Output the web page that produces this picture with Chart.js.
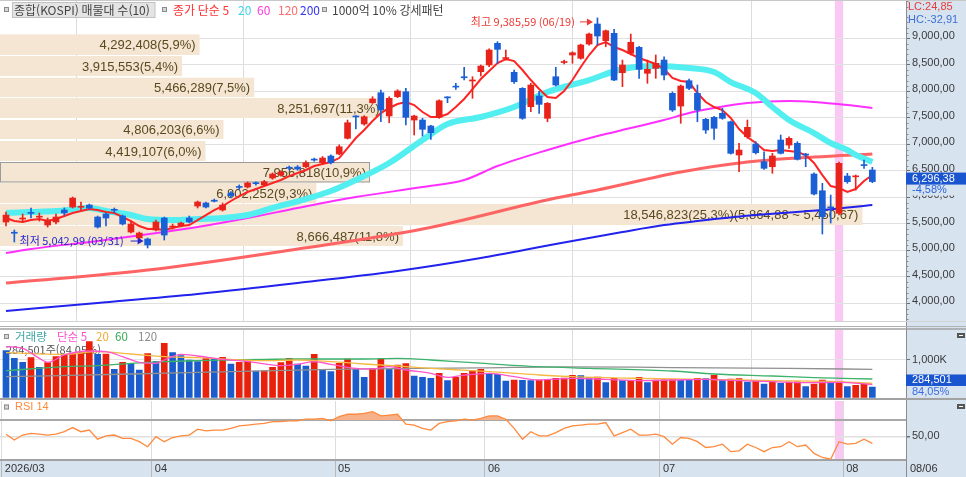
<!DOCTYPE html>
<html lang="ko">
<head>
<meta charset="utf-8">
<title>종합(KOSPI) 일봉</title>
<script src="https://cdn.jsdelivr.net/npm/chart.js@4.4.1/dist/chart.umd.min.js"></script>
<style>
  html, body { margin: 0; padding: 0; background: #fff; }
  #wrap { position: relative; width: 966px; height: 477px; overflow: hidden; }
  #wrap canvas { position: absolute; left: 0; }
  #priceChart { top: 0; }
  #volumeChart { top: 322px; }
  #rsiChart { top: 400px; }
</style>
</head>
<body>
<div id="wrap">
  <canvas id="priceChart" width="966" height="322"></canvas>
  <canvas id="volumeChart" width="966" height="78"></canvas>
  <canvas id="rsiChart" width="966" height="77"></canvas>
</div>
<script>
// ---- data ----
const monthLabels = ['2026/03', '04', '05', '06', '07', '08'];
const monthStarts = [0, 18, 40, 58, 79, 101];   // first session of each month
const lastDate = '08/06';
const highDate = '06/19';
const lowDate = '03/31';
const highlightIndex = 100;                      // pattern day (pink column)

const opens = [
  5534, 5330, 5590, 5705, 5625, 5477, 5534, 5760, 5816, 5812,
  5854, 5628, 5684, 5765, 5647, 5345, 5232, 5213, 5383, 5609,
  5440, 5458, 5609, 5835, 5892, 5934, 5760, 6080, 6196, 6194,
  6265, 6232, 6364, 6420, 6557, 6571, 6577, 6710, 6652, 6779,
  6817, 7113, 7524, 7383, 7785, 7973, 7534, 7898, 7992, 7458,
  7458, 7345, 7509, 7884, 8087, 8264, 8195, 8370, 8496, 8906,
  8618, 8358, 8056, 7709, 7911, 7490, 8275, 8543, 8685, 8623,
  8892, 9270, 8955, 9094, 8351, 8717, 8830, 8340, 8434, 8590,
  7962, 7722, 8200, 7962, 7471, 7509, 7585, 7426, 6798, 7143,
  7005, 6671, 6577, 7081, 6986, 7019, 6807, 6439, 6124, 5810,
  5698, 6401, 6386, 6613, 6515
];
const highs = [
  5722, 5383, 5684, 5798, 5703, 5609, 5684, 5798, 6005, 5911,
  5873, 5647, 5703, 5798, 5665, 5552, 5345, 5232, 5571, 5628,
  5496, 5534, 5647, 5930, 5911, 5967, 5892, 6110, 6233, 6290,
  6290, 6320, 6460, 6500, 6590, 6600, 6690, 6740, 6770, 6800,
  6990, 7458, 7540, 7540, 7898, 8024, 7898, 8030, 8056, 7550,
  7490, 7360, 7840, 7898, 8151, 8453, 8275, 8496, 8800, 8936,
  8779, 8402, 8070, 8151, 8000, 7790, 8453, 8590, 8747, 8890,
  9100, 9385.59, 9157, 9170, 8590, 9081, 8850, 8590, 8685, 8653,
  7990, 8120, 8230, 8119, 7490, 7530, 7679, 7440, 7019, 7458,
  7049, 6860, 6830, 7175, 7143, 7049, 6830, 6460, 6264, 6043,
  6666, 6453, 6420, 6703, 6566
];
const lows = [
  5458, 5156, 5534, 5609, 5552, 5439, 5496, 5665, 5798, 5760,
  5779, 5420, 5458, 5703, 5477, 5326, 5194, 5042.99, 5364, 5194,
  5401, 5439, 5515, 5798, 5798, 5911, 5740, 5990, 6150, 6175,
  6230, 6220, 6340, 6400, 6520, 6510, 6560, 6680, 6630, 6630,
  6800, 7100, 7288, 7360, 7770, 7426, 7407, 7880, 7364, 7175,
  7156, 7094, 7490, 7785, 8038, 8213, 7868, 8289, 8464, 8528,
  8590, 8151, 7471, 7615, 7585, 7426, 8100, 8515, 8530, 8605,
  8870, 8874, 8841, 8200, 8087, 8685, 8245, 8151, 8245, 8213,
  7620, 7396, 8030, 7426, 7207, 7094, 7471, 6815, 6483, 7113,
  6817, 6528, 6453, 6817, 6924, 6703, 6577, 6043, 5307, 5515,
  5666, 6264, 6137, 6547, 6275
];
const closes = [
  5665, 5322, 5598, 5697, 5633, 5571, 5628, 5703, 5986, 5820,
  5798, 5439, 5609, 5755, 5496, 5496, 5326, 5100, 5534, 5288,
  5448, 5515, 5534, 5911, 5816, 5926, 5854, 6030, 6186, 6270,
  6257, 6294, 6439, 6477, 6549, 6533, 6652, 6702, 6741, 6652,
  6954, 7407, 7516, 7520, 7855, 7647, 7868, 8006, 7509, 7534,
  7283, 7219, 7822, 7876, 8079, 8256, 8205, 8477, 8779, 8792,
  8627, 8181, 7490, 8119, 7754, 7773, 8119, 8552, 8728, 8874,
  9081, 9043, 9143, 8213, 8496, 8925, 8415, 8415, 8528, 8307,
  7647, 8100, 8056, 7647, 7270, 7302, 7490, 6830, 6892, 7320,
  6841, 6547, 6779, 6830, 7113, 6717, 6797, 6062, 5634, 5800,
  6641, 6294, 6396, 6598.6, 6296.38
];

// moving averages of the close (5 per session, the rest as [session, value])
const ma5 = [
  5609, 5552, 5534, 5571, 5590, 5552, 5590, 5647, 5703, 5741,
  5779, 5760, 5722, 5703, 5628, 5552, 5458, 5401, 5401, 5383,
  5420, 5458, 5477, 5571, 5665, 5760, 5835, 5930, 6024, 6100,
  6156, 6213, 6269, 6326, 6401, 6458, 6515, 6590, 6628, 6666,
  6741, 6930, 7119, 7270, 7439, 7590, 7685, 7760, 7798, 7741,
  7609, 7515, 7515, 7571, 7704, 7855, 8043, 8232, 8383, 8534,
  8609, 8571, 8402, 8213, 8043, 7892, 7873, 8006, 8213, 8458,
  8685, 8874, 8930, 8836, 8779, 8704, 8628, 8571, 8515, 8421,
  8251, 8194, 8175, 7968, 7798, 7704, 7647, 7496, 7288, 7138,
  7024, 6892, 6873, 6892, 6873, 6854, 6798, 6647, 6420, 6213,
  6175, 6100, 6156, 6307, 6420
];
const ma20 = [[0, 5703], [3, 5722], [6, 5741], [10, 5798], [12, 5741], [15, 5665], [17, 5590],
  [20, 5571], [23, 5590], [26, 5609], [29, 5665], [32, 5798], [36, 5967], [39, 6118], [42, 6326],
  [46, 6647], [50, 7081], [53, 7383], [57, 7515], [61, 7704], [65, 7987], [70, 8213], [74, 8421],
  [78, 8477], [82, 8440], [85, 8364], [87, 8175], [90, 7968], [92, 7704], [94, 7458], [97, 7213],
  [99, 7024], [101, 6892], [102, 6800], [104, 6666]];
const ma60 = [[0, 4949], [3, 5024], [11, 5175], [19, 5345], [23, 5439], [29, 5609], [35, 5798],
  [42, 6005], [50, 6194], [55, 6326], [59, 6590], [65, 6892], [71, 7156], [75, 7307], [79, 7458],
  [82, 7590], [85, 7685], [89, 7779], [94, 7817], [97, 7798], [101, 7741], [104, 7685]];
const ma120 = [[0, 4382], [17, 4628], [35, 5024], [50, 5401], [66, 5986], [71, 6137], [81, 6477],
  [89, 6666], [97, 6760], [104, 6817]];
const ma200 = [[0, 3854], [11, 4005], [23, 4175], [35, 4382], [47, 4609], [57, 4854], [66, 5118],
  [74, 5345], [79, 5477], [83, 5552], [90, 5665], [98, 5760], [104, 5854]];

const priceTicks = [4000, 4500, 5000, 5500, 6000, 6500, 7000, 7500, 8000, 8500, 9000];

// volume profile (매물대), 10 price bands from top to bottom
const bandHigh = [9075, 8666, 8256, 7873, 7458, 7062, 6666, 6269, 5873, 5458];
const bandLow = [8685, 8289, 7892, 7496, 7100, 6685, 6280, 5892, 5477, 5081];
const bandVolume = [4292408, 3915553, 5466289, 8251697, 4806203, 4419107, 7956818, 6802252, 18546823, 8666487];
const bandPct = [5.9, 5.4, 7.5, 11.3, 6.6, 6.0, 10.9, 9.3, 25.3, 11.8];
const maxBandRange = [5864.88, 5450.67];

const volume = [
  1248000, 1044000, 938000, 1062000, 806000, 929000, 1089000, 1150000, 1160000, 1195000,
  1486000, 1150000, 1159000, 753000, 938000, 912000, 735000, 1168000, 956000, 1442000,
  1195000, 1115000, 1000000, 956000, 1044000, 1018000, 1071000, 894000, 938000, 982000,
  708000, 715000, 806000, 929000, 1044000, 894000, 841000, 1150000, 735000, 691000,
  912000, 1027000, 762000, 540000, 779000, 1027000, 762000, 868000, 903000, 576000,
  540000, 514000, 647000, 452000, 540000, 647000, 717000, 752000, 629000, 620000,
  443000, 470000, 462000, 455000, 468000, 487000, 513000, 520000, 593000, 585000,
  531000, 545000, 399000, 513000, 452000, 460000, 540000, 399000, 469000, 475000,
  480000, 470000, 465000, 513000, 505000, 593000, 469000, 495000, 505000, 417000,
  452000, 363000, 407000, 381000, 416000, 420000, 293000, 363000, 469000, 381000,
  425000, 293000, 328000, 363000, 284501
];
const volMa5 = [[0, 1354000], [2, 1310000], [4, 1044000], [5, 938000], [7, 1133000], [10, 1239000],
  [12, 1221000], [14, 1089000], [16, 938000], [18, 912000], [19, 1000000], [21, 1150000], [23, 1106000],
  [26, 1018000], [28, 982000], [30, 929000], [33, 850000], [35, 885000], [37, 956000], [39, 885000],
  [42, 779000], [44, 762000], [46, 823000], [48, 735000], [51, 647000], [53, 540000], [55, 600000],
  [58, 646000], [61, 558000], [64, 469000], [68, 513000], [72, 487000], [76, 452000], [80, 469000],
  [84, 487000], [88, 452000], [92, 425000], [96, 399000], [100, 408000], [104, 346000]];
const volMa20 = [[0, 1195000], [7, 1150000], [11, 1221000], [15, 1159000], [19, 1089000], [23, 1062000],
  [27, 1018000], [31, 982000], [35, 1000000], [39, 956000], [43, 894000], [47, 841000], [51, 779000],
  [56, 717000], [60, 664000], [64, 602000], [68, 558000], [76, 513000], [84, 487000], [92, 452000],
  [100, 425000], [104, 381000]];
const volMa60 = [[0, 717000], [7, 823000], [11, 850000], [15, 912000], [19, 956000], [23, 982000],
  [27, 1000000], [31, 1018000], [35, 1027000], [39, 1027000], [43, 1027000], [47, 1044000], [51, 1000000],
  [56, 929000], [64, 823000], [70, 779000], [80, 708000], [85, 629000], [92, 575000], [97, 531000],
  [104, 496000]];
const volMa120 = [[0, 558000], [15, 629000], [27, 691000], [39, 753000], [57, 790000], [67, 820000],
  [80, 800000], [94, 779000], [104, 752000]];
const volRatioPct = 84.05;

const rsi = [
  53, 46, 52, 54, 53, 52, 53, 56, 61, 56,
  58, 47, 51, 52, 48, 48, 44, 38, 50, 44,
  49, 51, 52, 59, 57, 58, 58, 60, 63, 64,
  65, 66, 68, 68, 69, 69, 71, 71, 72, 69,
  74, 77, 77, 78, 80, 75, 76, 77, 65, 64,
  60, 58, 66, 68, 69, 71, 70, 72, 75, 75,
  71, 60, 47, 56, 51, 51, 55, 60, 63, 64,
  65, 65, 67, 51, 55, 59, 52, 52, 53, 50,
  41, 49, 48, 44, 37, 38, 41, 32, 33, 41,
  37, 32, 37, 38, 44, 38, 40, 30, 25, 23,
  44, 41, 42, 47, 42
];

// ---- look ----
const xMin = -0.72, xMax = 108.04;
const axisWidth = 60;
const axisBg = '#d8e3f0';
const upColor = '#e8231b', downColor = '#1b5fd6';
const krFont = '"Noto Sans CJK KR", "Noto Sans", sans-serif';
const numFont = '"Liberation Sans", Arial, sans-serif';

function fmt(v, d) {
  return v.toLocaleString('en-US', { minimumFractionDigits: d, maximumFractionDigits: d }).replace('.', ',');
}

const last = closes.length - 1;
const idx = closes.map((c, i) => i);
const candleColors = closes.map((c, i) => c >= opens[i] ? upColor : downColor);
const volColors = volume.map((v, i) => i > 0 && v > volume[i - 1] ? '#e8200c' : '#1a5ccc');
const highIndex = highs.indexOf(Math.max(...highs));
const lowIndex = lows.indexOf(Math.min(...lows));

function pts(pairs) { return pairs.map(([i, v]) => ({ x: i, y: v })); }
function line(data, color, width, smooth) {
  return {
    type: 'line', data, borderColor: color, borderWidth: width, pointRadius: 0, fill: false,
    cubicInterpolationMode: smooth ? 'monotone' : 'default', tension: 0
  };
}

// keep the plot area exactly where the panel is: no room reserved for edge labels
function noEdgePadding(s) {
  s.paddingTop = 0; s.paddingBottom = 0; s.paddingLeft = 0; s.paddingRight = 0;
}

// an x axis that takes no room (used to map the profile volumes)
function flatAxis(extra) {
  return Object.assign({
    type: 'linear', offset: false, position: 'bottom',
    afterFit: s => { s.height = 0; noEdgePadding(s); },
    grid: { display: false, drawTicks: false },
    border: { display: false },
    ticks: { display: false }
  }, extra);
}

function monthAxis(withLabels) {
  return {
    type: 'linear', min: xMin, max: xMax, offset: false,
    afterBuildTicks: s => { s.ticks = monthStarts.map(m => ({ value: m - 0.5 })); },
    afterFit: s => { s.height = withLabels ? 17.5 : 0; noEdgePadding(s); },
    grid: { color: '#dcdcdc', drawTicks: withLabels, tickLength: 17.5, tickColor: '#b8b8b8' },
    border: withLabels ? { display: true, color: '#a2a2a2', width: 2 } : { display: false },
    ticks: withLabels ? {
      autoSkip: false, maxRotation: 0, align: 'start', padding: -14.5, labelOffset: 3,
      font: { family: numFont, size: 11 }, color: '#333',
      callback: (v, i) => monthLabels[i]
    } : { display: false }
  };
}

function valueAxisFit(s) { s.width = axisWidth; noEdgePadding(s); }

function icon(ctx, x, y) {
  ctx.fillStyle = '#d6d6d6';
  ctx.fillRect(x, y, 5, 5);
  ctx.strokeStyle = '#8a8a8a';
  ctx.lineWidth = 1;
  ctx.strokeRect(x + 0.5, y + 0.5, 4, 4);
}
function texts(ctx, items, y, font) {
  ctx.font = font;
  ctx.textAlign = 'left';
  ctx.textBaseline = 'middle';
  items.forEach(([t, x, c]) => { ctx.fillStyle = c; ctx.fillText(t, x, y); });
}
function hline(ctx, y, w, color, lw) {
  ctx.strokeStyle = color; ctx.lineWidth = lw;
  ctx.beginPath(); ctx.moveTo(0, y); ctx.lineTo(w, y); ctx.stroke();
}
function arrow(ctx, tipX, tipY, len, color) {
  ctx.strokeStyle = color; ctx.fillStyle = color; ctx.lineWidth = 1;
  ctx.beginPath(); ctx.moveTo(tipX - len, tipY); ctx.lineTo(tipX - 3, tipY); ctx.stroke();
  ctx.beginPath(); ctx.moveTo(tipX, tipY); ctx.lineTo(tipX - 6, tipY - 3.5); ctx.lineTo(tipX - 6, tipY + 3.5);
  ctx.closePath(); ctx.fill();
}

// backgrounds, pink marker column, right axis strip
const panelBg = {
  id: 'panelBg',
  beforeDraw(chart, args, opts) {
    const { ctx, chartArea, width, height, scales: { x } } = chart;
    ctx.save();
    ctx.fillStyle = '#fff';
    ctx.fillRect(0, 0, width, height);
    ctx.fillStyle = axisBg;
    ctx.fillRect(chartArea.right, 0, width - chartArea.right, height);
    if (opts.bottomBar) ctx.fillRect(0, chartArea.bottom, width, height - chartArea.bottom);
    const l = x.getPixelForValue(highlightIndex - 0.5), r = x.getPixelForValue(highlightIndex + 0.5);
    ctx.fillStyle = '#f9c8f3';
    ctx.fillRect(l, chartArea.top, r - l, chartArea.bottom - chartArea.top);
    ctx.restore();
  },
  afterDraw(chart) {
    const { ctx, chartArea, height } = chart;
    ctx.save();
    ctx.strokeStyle = '#8c8c8c'; ctx.lineWidth = 1;
    ctx.beginPath(); ctx.moveTo(chartArea.right + 0.5, 0); ctx.lineTo(chartArea.right + 0.5, height); ctx.stroke();
    ctx.restore();
  }
};

// ---- price panel ----
const volumeProfile = {
  id: 'volumeProfile',
  beforeDatasetsDraw(chart) {
    const { ctx, scales: { y, xp } } = chart;
    const maxK = bandVolume.indexOf(Math.max(...bandVolume));
    ctx.save();
    ctx.font = '13px ' + numFont;
    ctx.textAlign = 'right';
    ctx.textBaseline = 'middle';
    bandVolume.forEach((v, k) => {
      const top = y.getPixelForValue(bandHigh[k]);
      const bottom = y.getPixelForValue(bandLow[k]);
      const left = xp.getPixelForValue(0);
      const right = xp.getPixelForValue(v);
      ctx.fillStyle = '#f4e6d2';
      ctx.fillRect(left, top, right - left, bottom - top);
      if (closes[last] >= bandLow[k] && closes[last] <= bandHigh[k]) {
        ctx.strokeStyle = '#9b9b9b'; ctx.lineWidth = 1;
        ctx.strokeRect(left + 0.5, top + 0.5, right - left - 1, bottom - top - 1);
      }
      let label = fmt(v, 0) + '(' + fmt(bandPct[k], 1) + '%)';
      if (k === maxK) label += '(' + fmt(maxBandRange[0], 2) + ' ~ ' + fmt(maxBandRange[1], 2) + ')';
      ctx.fillStyle = '#5a4820';
      ctx.fillText(label, right - 4, (top + bottom) / 2 + 1);
    });
    ctx.restore();
  }
};

const priceDecor = {
  id: 'priceDecor',
  afterDatasetsDraw(chart) {
    const { ctx, scales: { x, y } } = chart;
    ctx.save();
    ctx.font = '11px ' + krFont;
    ctx.textAlign = 'right';
    ctx.textBaseline = 'middle';
    let tx = x.getPixelForValue(highIndex) - 4.5, ty = y.getPixelForValue(highs[highIndex]) + 4;
    arrow(ctx, tx, ty, 13, '#ee3a32');
    ctx.fillText('최고 ' + fmt(highs[highIndex], 2) + ' (' + highDate + ')', tx - 18, ty);
    tx = x.getPixelForValue(lowIndex) - 4; ty = y.getPixelForValue(lows[lowIndex]) - 7;
    arrow(ctx, tx, ty, 13, '#2626cc');
    ctx.fillText('최저 ' + fmt(lows[lowIndex], 2) + ' (' + lowDate + ')', tx - 20, ty);
    ctx.restore();
  },
  afterDraw(chart) {
    const { ctx, width, chartArea, scales: { y } } = chart;
    ctx.save();
    hline(ctx, 0.5, width, '#c8c8c8', 1);
    hline(ctx, chartArea.bottom - 0.5, width, '#d2d2d2', 1);

    // minor ticks on the price axis
    ctx.strokeStyle = '#8a8a8a'; ctx.lineWidth = 1;
    for (let v = 3700; v <= 9700; v += 100) {
      if (v % 500 === 0) continue;
      const py = Math.round(y.getPixelForValue(v)) + 0.5;
      ctx.beginPath(); ctx.moveTo(chartArea.right, py); ctx.lineTo(chartArea.right + 2.5, py); ctx.stroke();
    }

    // legend row
    ctx.fillStyle = '#e4e4e4';
    ctx.fillRect(12.5, 2.5, 142.5, 15);
    ctx.strokeStyle = '#c2c2c2';
    ctx.strokeRect(12.5, 2.5, 142.5, 15);
    icon(ctx, 4, 7);
    icon(ctx, 162, 7);
    icon(ctx, 322, 7);
    texts(ctx, [
      ['종합(KOSPI) 매물대 수(10)', 14, '#444'],
      ['종가 단순 5', 173, '#ff3030'],
      ['20', 238, '#3fd4ec'],
      ['60', 257, '#ff38dc'],
      ['120', 278, '#ff6f6f'],
      ['200', 300, '#3434ee'],
      ['1000억 10% 강세패턴', 332, '#444']
    ], 10, '12px ' + krFont);

    // right axis read-outs
    const lc = (closes[last] / lows[lowIndex] - 1) * 100;
    const hc = (closes[last] / highs[highIndex] - 1) * 100;
    const chg = (closes[last] / closes[last - 1] - 1) * 100;
    const ax = chartArea.right;
    texts(ctx, [['LC:' + fmt(lc, 2), ax + 2, '#e83a3a']], 7, '11px ' + numFont);
    texts(ctx, [['HC:' + fmt(hc, 2), ax + 2, '#3c6fd8']], 20, '11px ' + numFont);
    const cy = y.getPixelForValue(closes[last]);
    ctx.fillStyle = axisBg;
    ctx.fillRect(ax + 1, cy + 3, width - ax - 1, 11);
    ctx.fillStyle = '#1a55d0';
    ctx.fillRect(ax, cy - 9, width - ax, 12);
    texts(ctx, [[fmt(closes[last], 2), ax + 6, '#fff']], cy - 3, '11px ' + numFont);
    texts(ctx, [[fmt(chg, 2) + '%', ax + 6, '#2a64e0']], cy + 8.5, '11px ' + numFont);
    ctx.restore();
  }
};

new Chart(document.getElementById('priceChart'), {
  type: 'bar',
  data: {
    datasets: [
      { type: 'bar', data: idx.map(i => ({ x: i, y: [opens[i], closes[i]] })), backgroundColor: candleColors,
        barThickness: 6, minBarLength: 1, grouped: false, borderWidth: 0 },
      { type: 'bar', data: idx.map(i => ({ x: i, y: [lows[i], highs[i]] })), backgroundColor: candleColors,
        barThickness: 1, grouped: false, borderWidth: 0 },
      line(idx.map(i => ({ x: i, y: ma5[i] })), '#ff2424', 2, false),
      line(pts(ma20), '#52eef0', 6, true),
      line(pts(ma60), '#ff30ff', 2, true),
      line(pts(ma120), '#ff6464', 3, true),
      line(pts(ma200), '#2222ee', 2, true)
    ]
  },
  options: {
    responsive: false,
    animation: false,
    events: [],
    layout: { padding: 0, autoPadding: false },
    plugins: { legend: { display: false }, tooltip: { enabled: false }, panelBg: {} },
    scales: {
      x: monthAxis(false),
      xp: flatAxis({ axis: 'x', min: 0, max: 19484000 }),
      y: {
        position: 'right', min: 3647, max: 9723,
        afterBuildTicks: s => { s.ticks = priceTicks.map(v => ({ value: v })); },
        afterFit: valueAxisFit,
        border: { display: true, color: '#8c8c8c' },
        grid: { color: '#e0e0e0', drawTicks: true, tickLength: 4, tickColor: '#6e6e6e' },
        ticks: { padding: 2, labelOffset: -2, font: { family: numFont, size: 11 }, color: '#3a3a3a',
          callback: v => fmt(v, 2) }
      }
    }
  },
  plugins: [panelBg, volumeProfile, priceDecor]
});

// ---- volume panel ----
const volumeDecor = {
  id: 'volumeDecor',
  beforeDatasetsDraw(chart) {
    const { ctx } = chart;
    ctx.save();
    icon(ctx, 4, 12);
    texts(ctx, [
      ['거래량', 15, '#3da5a5'],
      ['단순 5', 57, '#ff4fd0'],
      ['20', 96, '#f0a830'],
      ['60', 115, '#35a853'],
      ['120', 138, '#8a8a8a']
    ], 14.7, '11.5px ' + krFont);
    texts(ctx, [[fmt(volume[last], 0) + '주(' + fmt(volRatioPct, 2) + '%)', 6, '#555']], 27.5, '11px ' + krFont);
    ctx.restore();
  },
  afterDraw(chart) {
    const { ctx, width, chartArea, scales: { y } } = chart;
    ctx.save();
    hline(ctx, 4.5, width, '#b0b0b0', 1);
    hline(ctx, 7, width, '#a2a2a2', 1.5);
    hline(ctx, chart.height - 1, width, '#a2a2a2', 2);
    const ax = chartArea.right;
    const vy = y.getPixelForValue(volume[last]);
    ctx.fillStyle = '#1a55d0';
    ctx.fillRect(ax, vy - 12.5, width - ax, 11.5);
    texts(ctx, [[fmt(volume[last], 0), ax + 6, '#fff']], vy - 6.7, '11px ' + numFont);
    texts(ctx, [[fmt(volRatioPct, 2) + '%', ax + 6, '#3b6fe0']], vy + 4.8, '11px ' + numFont);
    ctx.fillStyle = '#555';
    ctx.fillRect(width - 9, 11, 8, 5);
    ctx.fillStyle = '#fff';
    ctx.fillRect(width - 7, 13, 4, 1);
    ctx.restore();
  }
};

new Chart(document.getElementById('volumeChart'), {
  type: 'bar',
  data: {
    datasets: [
      line(pts(volMa5), '#ff55cc', 1.3, true),
      line(pts(volMa20), '#f5b942', 1.3, true),
      line(pts(volMa60), '#3cb36a', 1.3, true),
      line(pts(volMa120), '#909090', 1.3, true),
      { type: 'bar', data: idx.map(i => ({ x: i, y: volume[i] })), backgroundColor: volColors,
        barThickness: 6, grouped: false, borderWidth: 0 }
    ]
  },
  options: {
    responsive: false,
    animation: false,
    events: [],
    layout: { padding: { top: 8, bottom: 2.3, left: 0, right: 0 }, autoPadding: false },
    plugins: { legend: { display: false }, tooltip: { enabled: false }, panelBg: {} },
    scales: {
      x: monthAxis(false),
      y: {
        position: 'right', min: 0, max: 1795755,
        afterBuildTicks: s => { s.ticks = [{ value: 1000000 }]; },
        afterFit: valueAxisFit,
        border: { display: true, color: '#8c8c8c' },
        grid: { color: '#e2e2e2', drawTicks: true, tickLength: 4, tickColor: '#6e6e6e' },
        ticks: { padding: 2, font: { family: numFont, size: 11 }, color: '#3a3a3a',
          callback: v => (v / 1000).toLocaleString('en-US') + 'K' }
      }
    }
  },
  plugins: [panelBg, volumeDecor]
});

// ---- RSI panel ----
const rsiDecor = {
  id: 'rsiDecor',
  afterDraw(chart) {
    const { ctx, width, chartArea } = chart;
    ctx.save();
    icon(ctx, 4, 4.5);
    texts(ctx, [['RSI 14', 15, '#ff8a3d']], 7, '11px ' + numFont);
    texts(ctx, [[lastDate, chartArea.right + 4, '#333']], chartArea.bottom + 9.5, '11px ' + numFont);
    ctx.fillStyle = '#555';
    ctx.fillRect(width - 9, 4, 8, 5);
    ctx.fillStyle = '#fff';
    ctx.fillRect(width - 7, 6, 4, 1);
    ctx.restore();
  }
};

new Chart(document.getElementById('rsiChart'), {
  type: 'line',
  data: {
    datasets: [{
      data: idx.map(i => ({ x: i, y: rsi[i] })),
      borderColor: '#ff8a3d', borderWidth: 1.3, pointRadius: 0, tension: 0,
      fill: { target: { value: 70 }, above: '#f6b08a', below: 'rgba(0,0,0,0)' }
    }]
  },
  options: {
    responsive: false,
    animation: false,
    events: [],
    layout: { padding: { top: 1, bottom: 0, left: 0, right: 0 }, autoPadding: false },
    plugins: { legend: { display: false }, tooltip: { enabled: false }, panelBg: { bottomBar: true } },
    scales: {
      x: monthAxis(true),
      y: {
        position: 'right', min: 22.6, max: 92.9,
        afterBuildTicks: s => { s.ticks = [{ value: 50 }, { value: 70 }]; },
        afterFit: valueAxisFit,
        border: { display: true, color: '#8c8c8c' },
        grid: {
          color: c => c.tick && c.tick.value === 70 ? '#a9a9a9' : '#e0e0e0',
          lineWidth: c => c.tick && c.tick.value === 70 ? 2 : 1.5,
          drawTicks: true, tickLength: 4,
          tickColor: c => c.tick && c.tick.value === 70 ? 'rgba(0,0,0,0)' : '#6e6e6e'
        },
        ticks: { padding: 2, labelOffset: -1, font: { family: numFont, size: 11 }, color: '#3a3a3a',
          callback: v => v === 50 ? fmt(v, 2) : '' }
      }
    }
  },
  plugins: [panelBg, rsiDecor]
});
</script>
</body>
</html>
